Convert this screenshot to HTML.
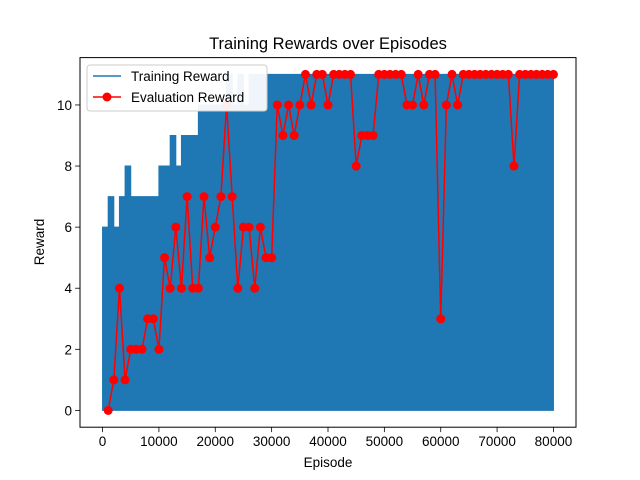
<!DOCTYPE html>
<html><head><meta charset="utf-8"><style>
html,body{margin:0;padding:0;background:#fff;}
svg{display:block;font-family:"Liberation Sans","DejaVu Sans",sans-serif;}
</style></head><body>
<svg id="chart" width="640" height="480" viewBox="0 0 640 480">
<rect width="640" height="480" fill="#fff"/>
<text x="328" y="49" font-size="16.5" text-anchor="middle" fill="#000">Training Rewards over Episodes</text>
<g id="plot"></g>
<rect x="80" y="57.6" width="496" height="369.6" fill="none" stroke="#000" stroke-width="1"/>
<g id="xt"></g><g id="yt"></g>
<text x="328" y="467" font-size="13.5" text-anchor="middle">Episode</text>
<text x="0" y="0" font-size="13.5" text-anchor="middle" transform="translate(44,242) rotate(-90)">Reward</text>
<g>
<rect x="87" y="65" width="180" height="46" rx="3" fill="#fff" fill-opacity="0.93" stroke="#ccc"/>
<line x1="93" y1="76" x2="121" y2="76" stroke="#1f77b4" stroke-width="1.5"/>
<text x="131" y="81" font-size="13.5">Training Reward</text>
<line x1="93" y1="97" x2="121" y2="97" stroke="#ff0000" stroke-width="1.5"/>
<circle cx="107" cy="97" r="4.5" fill="#ff0000"/>
<text x="131" y="102" font-size="13.5">Evaluation Reward</text>
</g>
</svg>
<script>
const trainBinMax = [6,7,6,7,8,7,7,7,7,7,8,8,9,8,9,9,9,10,10,10,10,10,11,10,11,10,11,11,11,11,11,11,11,11,11,11,11,11,11,11,11,11,11,11,11,11,11,11,11,11,11,11,11,11,11,11,11,11,11,11,11,11,11,11,11,11,11,11,11,11,11,11,11,11,11,11,11,11,11,11];
const evalEpisodes = [];
for (let e = 1000; e <= 80000; e += 1000) evalEpisodes.push(e);
const evalRewards = [0,1,4,1,2,2,2,3,3,2,5,4,6,4,7,4,4,7,5,6,7,10,7,4,6,6,4,6,5,5,10,9,10,9,10,11,10,11,11,10,11,11,11,11,8,9,9,9,11,11,11,11,11,10,10,11,10,11,11,3,10,11,10,11,11,11,11,11,11,11,11,11,8,11,11,11,11,11,11,11];
const xTicks = [0,10000,20000,30000,40000,50000,60000,70000,80000];
const yTicks = [0,2,4,6,8,10];
const binSize = 1000;

const L=80,R=576,T=57.6,B=427.2;
const xMin=-4000,xMax=84000,yMin=-0.55,yMax=11.55;
const X=v=>L+(v-xMin)/(xMax-xMin)*(R-L);
const Y=v=>B-(v-yMin)/(yMax-yMin)*(B-T);
const NS='http://www.w3.org/2000/svg';
const plot=document.getElementById('plot');
function mk(t,a){const e=document.createElementNS(NS,t);for(const k in a)e.setAttribute(k,a[k]);return e;}

let d='M'+X(0)+','+Y(0);
trainBinMax.forEach((m,i)=>{d+=' L'+X(i*binSize)+','+Y(m)+' L'+X((i+1)*binSize)+','+Y(m);});
d+=' L'+X(trainBinMax.length*binSize)+','+Y(0)+' Z';
const area=mk('path',{d:d,fill:'#1f77b4',stroke:'#1f77b4','stroke-width':1});


plot.appendChild(area);

const pts=evalEpisodes.map((e,i)=>X(e)+','+Y(evalRewards[i])).join(' ');
const line=mk('polyline',{points:pts,fill:'none',stroke:'#ff0000','stroke-width':1.5});


plot.appendChild(line);
evalEpisodes.forEach((e,i)=>{
  const c=mk('circle',{cx:X(e),cy:Y(evalRewards[i]),r:4.5,fill:'#ff0000'});
  
  
  plot.appendChild(c);
});

const xt=document.getElementById('xt');
xTicks.forEach(v=>{
  const l=mk('line',{x1:X(v),x2:X(v),y1:B,y2:B+4.9,stroke:'#000','stroke-width':0.8});
  
  
  xt.appendChild(l);
  const t=mk('text',{x:X(v),y:B+19,'font-size':13.5,'text-anchor':'middle'});
  t.textContent=String(v);
  
  
  xt.appendChild(t);
});
const yt=document.getElementById('yt');
yTicks.forEach(v=>{
  const l=mk('line',{x1:L-4.9,x2:L,y1:Y(v),y2:Y(v),stroke:'#000','stroke-width':0.8});
  
  
  yt.appendChild(l);
  const t=mk('text',{x:L-8,y:Y(v)+5,'font-size':13.5,'text-anchor':'end'});
  t.textContent=String(v);
  
  
  yt.appendChild(t);
});
</script>
</body></html>
